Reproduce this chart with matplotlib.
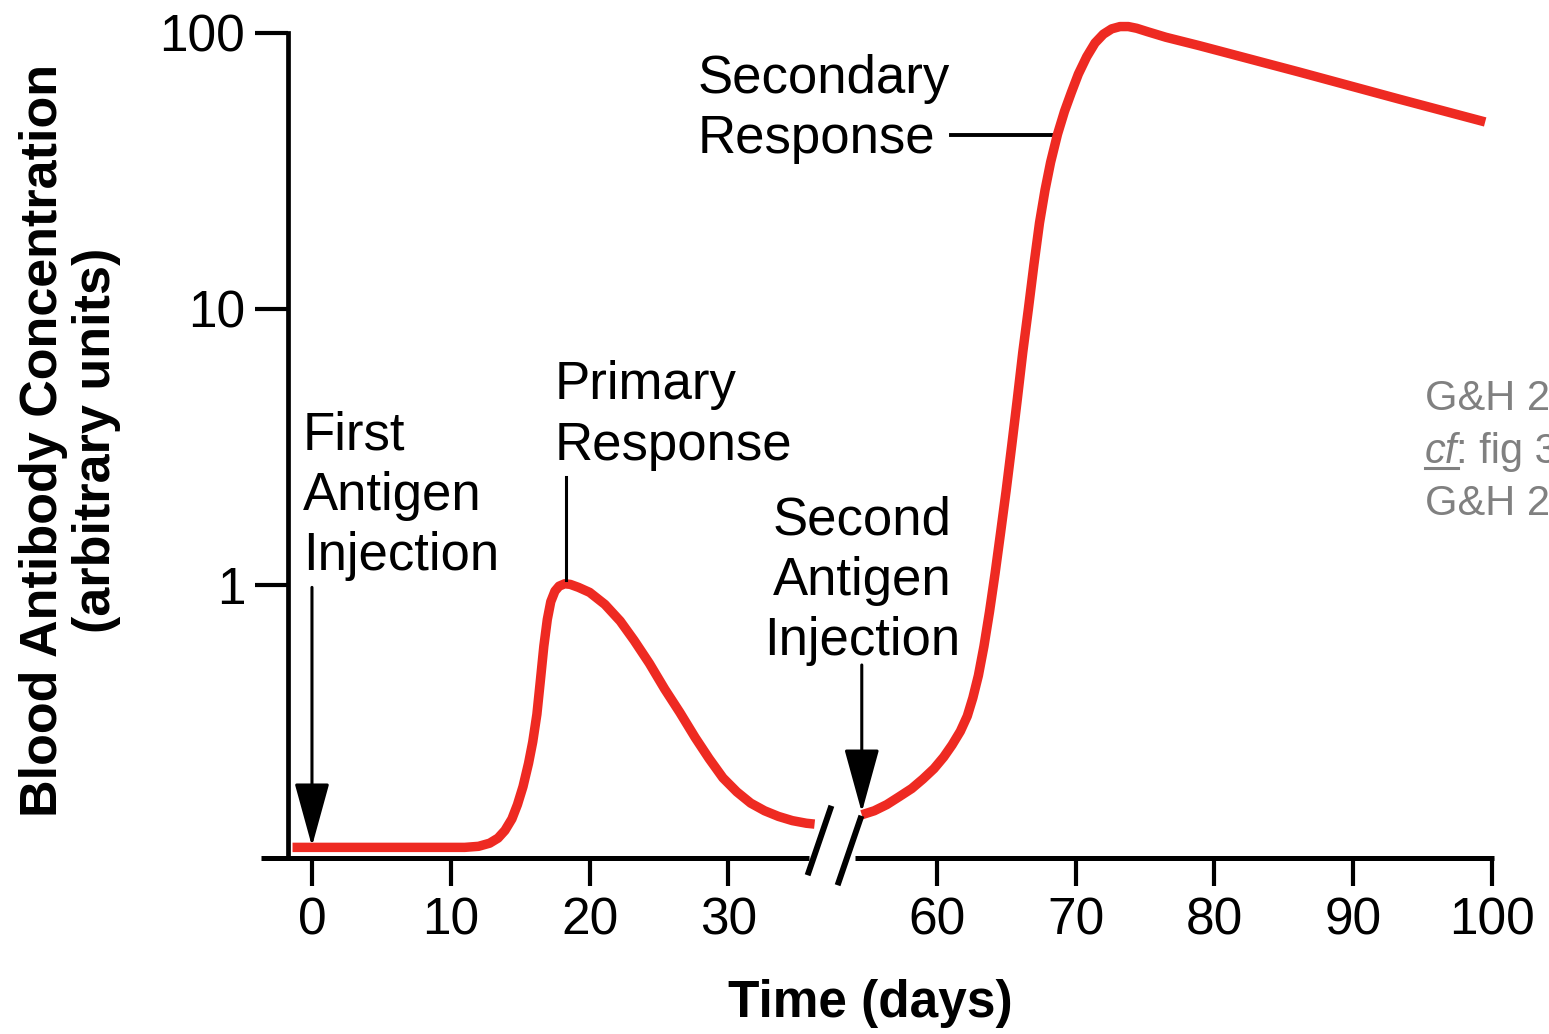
import numpy as np
import matplotlib
matplotlib.use("Agg")
import matplotlib.pyplot as plt

# ---------------- data ----------------
# primary response (days, antibody concentration)
primary_days = [-1.4, 0, 6.3, 11.0, 12.0, 12.8, 13.4, 13.9, 14.4, 14.8, 15.2, 15.6,
                15.9, 16.2, 16.45, 16.7, 16.95, 17.2, 17.5, 17.8, 18.2, 18.6, 19.2,
                20.0, 21.1, 22.2, 23.2, 24.3, 25.4, 26.5, 27.6, 28.6, 29.6, 30.6,
                31.6, 32.6, 33.6, 34.6, 35.6, 36.2]
primary_conc = [0.112, 0.112, 0.112, 0.112, 0.113, 0.116, 0.121, 0.129, 0.142, 0.160,
                0.186, 0.226, 0.27, 0.34, 0.45, 0.60, 0.75, 0.87, 0.95, 0.99, 1.01,
                1.005, 0.98, 0.94, 0.85, 0.74, 0.63, 0.52, 0.42, 0.345, 0.28, 0.235,
                0.20, 0.178, 0.162, 0.152, 0.145, 0.140, 0.137, 0.136]
# secondary response
secondary_days = [54.6, 55.5, 56.4, 57.3, 58.2, 59.0, 59.8, 60.5, 61.1, 61.7, 62.2,
                  62.6, 63.0, 63.4, 63.8, 64.2, 64.6, 65.0, 65.4, 65.8, 66.2, 66.6,
                  67.0, 67.4, 67.8, 68.2, 68.7, 69.2, 69.7, 70.2, 70.8, 71.4, 72.0,
                  72.6, 73.2, 73.8, 74.4, 75.2, 76.5, 78.9, 86.1, 93.3, 99.5]
secondary_conc = [0.147, 0.152, 0.160, 0.171, 0.183, 0.198, 0.216, 0.238, 0.263, 0.295,
                  0.335, 0.39, 0.47, 0.60, 0.80, 1.1, 1.55, 2.2, 3.2, 4.7, 7.0, 10.0,
                  14.5, 20.5, 27.0, 34.0, 43.0, 52.0, 61.0, 71.0, 82.0, 92.0, 99.0,
                  103.5, 105.5, 105.5, 104.0, 101.0, 96.5, 90.0, 72.2, 57.6, 47.6]

x_ticks = [0, 10, 20, 30, 60, 70, 80, 90, 100]
x_tick_labels = ["0", "10", "20", "30", "60", "70", "80", "90", "100"]
y_ticks = [1, 10, 100]
y_tick_labels = ["1", "10", "100"]

first_injection_day = 0
second_injection_day = 54.6
primary_peak_day = 18.3
secondary_label_day = 68.7

# ---------------- broken x scale ----------------
BRK_LO, BRK_HI = 38.0, 53.0
GAP = BRK_HI - BRK_LO


def fwd(t):
    t = np.asarray(t, dtype=float)
    return np.where(t <= BRK_LO, t, np.where(t >= BRK_HI, t - GAP, BRK_LO))


def inv(d):
    d = np.asarray(d, dtype=float)
    return np.where(d <= BRK_LO, d, d + GAP)


FONT = "Liberation Sans"
plt.rcParams["font.family"] = [FONT, "DejaVu Sans"]

W, H = 1549, 1034
fig = plt.figure(figsize=(W / 100, H / 100), dpi=100)
fig.patch.set_facecolor("white")

YLO, YHI = 0.1025, 120
ax = fig.add_axes([260.6 / W, 0.17021, 1232.9 / W, 0.81903])
ax.set_xscale("function", functions=(fwd, inv))
ax.set_yscale("log")
ax.set_xlim(-3.7, 100.1)
ax.set_ylim(YLO, YHI)

RED = "#ee2a22"
ax.plot(primary_days, primary_conc, color=RED, lw=6.8, solid_capstyle="butt",
        solid_joinstyle="round", clip_on=False, zorder=3)
ax.plot(secondary_days, secondary_conc, color=RED, lw=6.8, solid_capstyle="butt",
        solid_joinstyle="round", clip_on=False, zorder=3)

# spines
for s in ["top", "right", "bottom"]:
    ax.spines[s].set_visible(False)
ax.spines["left"].set_position(("data", -1.7))
ax.spines["left"].set_bounds(YLO, 100)
ax.spines["left"].set_linewidth(3.4)

# bottom axis line with a gap
ax.plot([-3.7, 35.8], [YLO, YLO], color="black", lw=3.6, clip_on=False,
        solid_capstyle="butt", zorder=4)
ax.plot([54.1, 100.1], [YLO, YLO], color="black", lw=3.6, clip_on=False,
        solid_capstyle="butt", zorder=4)
# break slashes
slash = [(-0.343, -1), (0.343, 1)]
ax.plot([36.55], [0.119], marker=slash, markersize=50, mew=4.3, color="black",
        linestyle="none", clip_on=False, zorder=5)
ax.plot([53.67], [0.1096], marker=slash, markersize=50, mew=4.3, color="black",
        linestyle="none", clip_on=False, zorder=5)

ax.set_xticks(x_ticks)
ax.set_xticklabels(x_tick_labels)
ax.set_yticks(y_ticks)
ax.set_yticklabels(y_tick_labels)
ax.xaxis.set_minor_locator(matplotlib.ticker.NullLocator())
ax.yaxis.set_minor_locator(matplotlib.ticker.NullLocator())
ax.tick_params(axis="x", direction="out", length=20, width=3, pad=8,
               labelsize=37, colors="black")
ax.tick_params(axis="y", direction="out", length=24, width=3, pad=7,
               labelsize=37, colors="black")
ax.patch.set_alpha(0)

TS = 38
LS = 1.27
# annotations (va='baseline' -> baseline of last line)
ax.text(-0.65, 1.13, "First\nAntigen\nInjection", fontsize=TS, ha="left",
        va="baseline", linespacing=LS)
ax.annotate("", xy=(first_injection_day, 0.113), xytext=(first_injection_day, 0.98),
            arrowprops=dict(arrowstyle="-|>,head_length=2.0,head_width=0.55",
                            mutation_scale=20, color="black", lw=2.2,
                            shrinkA=0, shrinkB=0), zorder=6)

ax.text(17.5, 2.84, "Primary\nResponse", fontsize=TS, ha="left", va="baseline",
        linespacing=LS)
ax.plot([primary_peak_day, primary_peak_day], [2.46, 1.04], color="black", lw=2.2,
        zorder=4)

ax.text(second_injection_day, 0.557, "Second\nAntigen\nInjection", fontsize=TS,
        ha="center", va="baseline", multialignment="center", linespacing=LS)
ax.annotate("", xy=(second_injection_day, 0.150), xytext=(second_injection_day, 0.513),
            arrowprops=dict(arrowstyle="-|>,head_length=2.0,head_width=0.55",
                            mutation_scale=20, color="black", lw=2.2,
                            shrinkA=0, shrinkB=0), zorder=6)

ax.text(27.8, 36.7, "Secondary\nResponse", fontsize=TS, ha="left", va="baseline",
        linespacing=LS)
ax.plot([61.0, secondary_label_day], [42.8, 42.8], color="black", lw=2.8, zorder=2)

# axis titles
fig.text(70 / W, 1 - 440 / H, "Blood Antibody Concentration\n(arbitrary units)",
         rotation=90, ha="center", va="center", multialignment="center",
         fontsize=37.5, fontweight="bold", linespacing=1.12)
fig.text(870 / W, 1 - 1003 / H, "Time (days)", ha="center", va="center",
         fontsize=37, fontweight="bold")

# side note (cut off at the right edge, as in the reference)
GRAY = "#808080"
fig.text(1425 / W, 1 - 410 / H, "G&H 2", color=GRAY, fontsize=30, ha="left",
         va="baseline")
fig.text(1425 / W, 1 - 463 / H, "cf", color=GRAY, fontsize=30, ha="left",
         va="baseline", style="italic")
fig.text(1456 / W, 1 - 463 / H, ": fig 3", color=GRAY, fontsize=30, ha="left",
         va="baseline")
fig.add_artist(matplotlib.lines.Line2D([1425 / W, 1458 / W],
                                       [1 - 468 / H, 1 - 468 / H],
                                       color=GRAY, lw=2.2))
fig.text(1425 / W, 1 - 515 / H, "G&H 2", color=GRAY, fontsize=30, ha="left",
         va="baseline")

fig.savefig("out.png", dpi=100, facecolor="white")
